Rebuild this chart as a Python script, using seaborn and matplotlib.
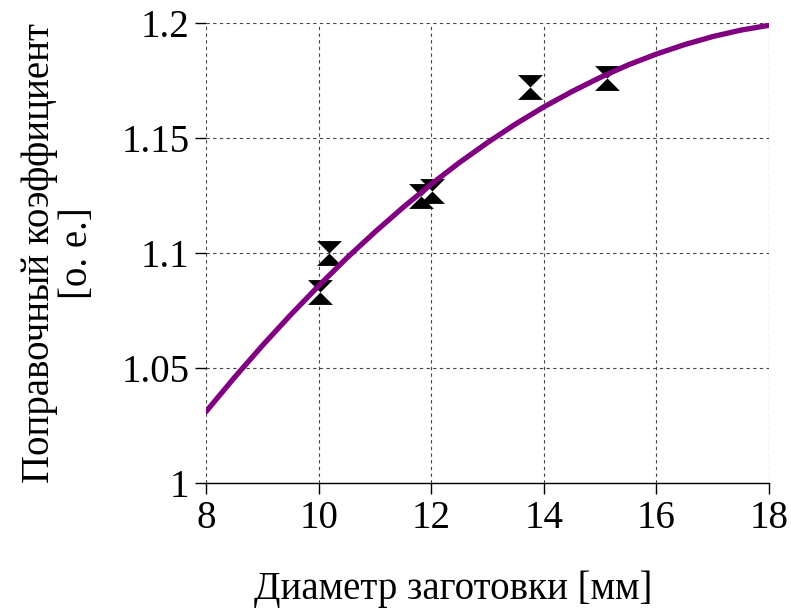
import matplotlib
matplotlib.use("Agg")
import matplotlib.pyplot as plt
import seaborn as sns
import pandas as pd
from matplotlib.path import Path

# Measured points
pt_x = [10.02, 10.18, 11.82, 12.01, 13.75, 15.12]
pt_y = [1.083, 1.100, 1.125, 1.127, 1.172, 1.176]

# Fitted curve samples
curve_x = [8.0, 8.5, 9.0, 9.5, 10.0, 10.5, 11.0, 11.5, 12.0, 12.5, 13.0,
           13.5, 14.0, 14.5, 15.0, 15.5, 16.0, 16.5, 17.0, 17.5, 18.0]
curve_y = [1.0310, 1.0457, 1.0597, 1.0730, 1.0857, 1.0978, 1.1091, 1.1198,
           1.1299, 1.1393, 1.1480, 1.1561, 1.1635, 1.1702, 1.1763, 1.1818,
           1.1865, 1.1906, 1.1941, 1.1969, 1.1990]

x_ticks = [8, 10, 12, 14, 16, 18]
y_ticks = [1.0, 1.05, 1.1, 1.15, 1.2]
y_tick_labels = ["1", "1.05", "1.1", "1.15", "1.2"]

sns.set_theme(style="white")
plt.rcParams['font.family'] = ['Liberation Serif', 'DejaVu Serif']

fig = plt.figure(figsize=(7.91, 6.12), dpi=100)
ax = fig.add_axes([0.2604, 0.2108, 0.7118, 0.7516])

hourglass = Path([(-1, 1), (1, 1), (0, 0), (1, -1), (-1, -1), (0, 0), (-1, 1)],
                 [Path.MOVETO, Path.LINETO, Path.LINETO, Path.LINETO,
                  Path.LINETO, Path.LINETO, Path.CLOSEPOLY])

df_pts = pd.DataFrame({"x": pt_x, "y": pt_y})
df_curve = pd.DataFrame({"x": curve_x, "y": curve_y})

sns.scatterplot(data=df_pts, x="x", y="y", marker=hourglass, s=320,
                color="black", edgecolor="black", linewidth=0, ax=ax, zorder=3)
sns.lineplot(data=df_curve, x="x", y="y", color="#800080", linewidth=3.8,
             ax=ax, zorder=4)

ax.set_xlim(8, 18)
ax.set_ylim(1.0, 1.2)
ax.set_xticks(x_ticks)
ax.set_xticklabels([str(v) for v in x_ticks])
ax.set_yticks(y_ticks)
ax.set_yticklabels(y_tick_labels)
ax.tick_params(axis="both", labelsize=28, direction="out", length=8,
               width=1, color="black", labelcolor="black", pad=4,
               left=True, bottom=True)

ax.grid(True, color="#444444", linestyle=(0, (3, 3)), linewidth=0.8)
ax.set_axisbelow(True)
for side in ["top", "right", "left"]:
    ax.spines[side].set_visible(False)
ax.spines["bottom"].set_color("black")
ax.spines["bottom"].set_linewidth(1)

ax.set_xlabel("Диаметр заготовки [мм]", fontsize=28, color="black")
ax.xaxis.set_label_coords(0.439, -0.19)
ax.set_ylabel("Поправочный коэффициент\n[о. е.]", fontsize=28, color="black",
              labelpad=18, linespacing=1.05)

fig.savefig("out.png", dpi=100)
